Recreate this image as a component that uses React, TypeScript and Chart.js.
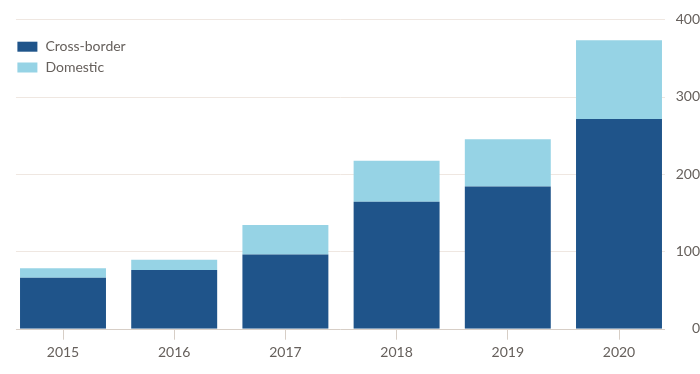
import React, { useEffect, useRef } from "react";
import { Chart, registerables } from "chart.js";

Chart.register(...registerables);

const years = ["2015", "2016", "2017", "2018", "2019", "2020"];
const crossBorder = [66, 76, 96, 164, 184, 271];
const domestic = [12, 13, 38, 53, 61, 102];
const yTicks = [0, 100, 200, 300, 400];

const DARK = "#1f548a";
const LIGHT = "#96d3e5";
const TEXT = "#66605c";
const GRID = "#efe7e1";
const AXIS = "#d7cec6";
const FONT = "Lato, 'Open Sans', sans-serif";

const gridPlugin = {
  id: "ftGrid",
  beforeDatasetsDraw(chart: any) {
    const { ctx } = chart;
    const xs = chart.scales.x;
    const ys = chart.scales.y;
    const step = xs.getPixelForValue(1) - xs.getPixelForValue(0);
    const left = xs.getPixelForValue(0) - 0.423 * step;
    const right = xs.getPixelForValue(years.length - 1) + 0.414 * step;
    ctx.save();
    yTicks.forEach((v) => {
      const y = Math.round(ys.getPixelForValue(v)) + 0.5;
      ctx.strokeStyle = v === 0 ? AXIS : GRID;
      ctx.lineWidth = 1;
      ctx.beginPath();
      ctx.moveTo(left, y);
      ctx.lineTo(right, y);
      ctx.stroke();
    });
    ctx.restore();
  },
};

const legendPlugin = {
  id: "ftLegend",
  afterDraw(chart: any) {
    const { ctx, chartArea } = chart;
    ctx.save();
    ctx.font = `14px ${FONT}`;
    ctx.textBaseline = "middle";
    ctx.textAlign = "left";
    chart.data.datasets.forEach((ds: any, i: number) => {
      const x = chartArea.left + 10;
      const y = chartArea.top + 22.4 + i * 20.8;
      ctx.fillStyle = ds.backgroundColor;
      ctx.fillRect(x, y, 20, 10);
      ctx.fillStyle = TEXT;
      ctx.fillText(ds.label, x + 28, y + 5);
    });
    ctx.restore();
  },
};

export default function App() {
  const ref = useRef<HTMLCanvasElement | null>(null);

  useEffect(() => {
    if (!ref.current) return;
    const chart = new Chart(ref.current, {
      type: "bar",
      data: {
        labels: years,
        datasets: [
          {
            label: "Cross-border",
            data: crossBorder,
            backgroundColor: DARK,
            borderWidth: 0,
            barPercentage: 0.773,
            categoryPercentage: 1,
          },
          {
            label: "Domestic",
            data: domestic,
            backgroundColor: LIGHT,
            borderWidth: 0,
            barPercentage: 0.773,
            categoryPercentage: 1,
          },
        ],
      },
      options: {
        responsive: false,
        animation: false,
        layout: { padding: { left: 7.4, right: 0, top: 19.3, bottom: 0 } },
        plugins: {
          legend: { display: false },
          tooltip: { enabled: false },
        },
        scales: {
          x: {
            stacked: true,
            offset: true,
            grid: {
              display: true,
              drawOnChartArea: false,
              drawTicks: true,
              tickLength: 11,
              offset: false,
              color: AXIS,
            },
            border: { display: false },
            ticks: {
              color: TEXT,
              font: { family: FONT, size: 14 },
              padding: 4,
              maxRotation: 0,
            },
            afterFit: (s: any) => {
              s.height = 45.3;
            },
          },
          y: {
            stacked: true,
            position: "right",
            min: 0,
            max: 400,
            afterBuildTicks: (s: any) => {
              s.ticks = yTicks.map((v) => ({ value: v }));
            },
            grid: { display: false, drawTicks: false },
            border: { display: false },
            ticks: {
              color: TEXT,
              font: { family: FONT, size: 14 },
              crossAlign: "far",
              padding: -8,
            },
            afterFit: (s: any) => {
              s.width = 25.4;
            },
          },
        },
      },
      plugins: [gridPlugin, legendPlugin],
    });
    return () => chart.destroy();
  }, []);

  return (
    <div style={{ position: "fixed", left: 0, top: 0, width: 700, height: 374, background: "#fff" }}>
      <canvas ref={ref} width={700} height={374} style={{ display: "block" }} />
    </div>
  );
}
